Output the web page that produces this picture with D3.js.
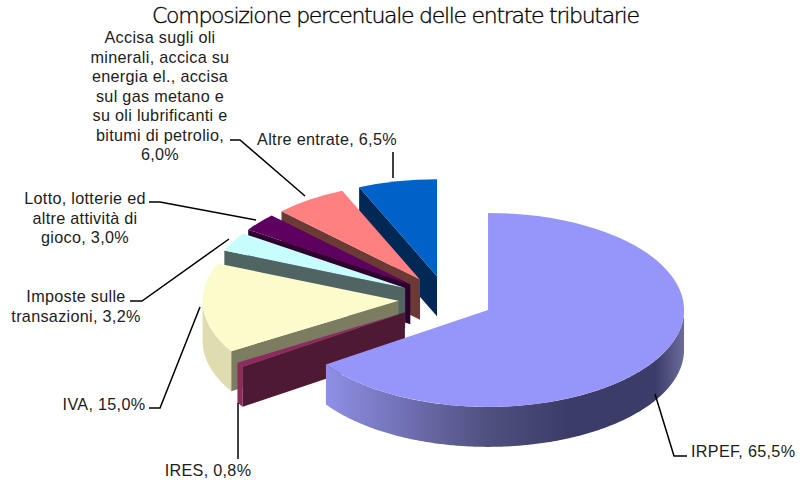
<!DOCTYPE html>
<html>
<head>
<meta charset="utf-8">
<script src="https://cdn.jsdelivr.net/npm/d3@7"></script>
<style>
body { margin: 0; background: #fff; }
text { font-family: "Liberation Sans", Arial, sans-serif; fill: #1c1c1c; }
</style>
</head>
<body>
<div id="chart"></div>
<script>
var categories = ["IRPEF", "IRES", "IVA", "Imposte sulle transazioni", "Lotto, lotterie ed altre attività di gioco", "Accisa sugli oli minerali", "Altre entrate"];
var values = [65.5, 0.8, 15.0, 3.2, 3.0, 6.0, 6.5];
var topColors = ["#9696fa", "#8e2a60", "#fbfbcb", "#c8fdfd", "#5e0060", "#ff8080", "#0062c8"];
var wallColors = ["#3c3c68", "#4d1933", "#7c7c60", "#506464", "#2d002d", "#6b3a35", "#002855"];
var rimLight = ["#8f8fe6", "#8a2d5c", "#dfddb0", "#a3cccc", "#520052", "#cc6666", "#0052a3"];
var explodeBy = [47, 49.5, 48, 47, 47, 47, 47];

var w = 803;
var h = 484;
var rx = 196;
var ry = 97;
var depth = 40;
var cx = 446.5;
var cy = 299;

// label text split the way the original wraps it
var labels = [
    { lines: ["IRPEF, 65,5%"], x: 691, y: 457, anchor: "start", path: [[655, 394], [674, 456], [687, 456]] },
    { lines: ["IRES, 0,8%"], x: 208, y: 476, anchor: "middle", path: [[238, 403], [238, 459]] },
    { lines: ["IVA, 15,0%"], x: 104, y: 410, anchor: "middle", path: [[200, 307], [160, 408], [149, 408]] },
    { lines: ["Imposte sulle", "transazioni, 3,2%"], x: 76, y: 302, anchor: "middle", path: [[229, 239], [142, 301], [130, 301]] },
    { lines: ["Lotto, lotterie ed", "altre attività di", "gioco, 3,0%"], x: 85, y: 204, anchor: "middle", path: [[256, 220], [160, 202], [149, 202]] },
    { lines: ["Accisa sugli oli", "minerali, accica su", "energia el., accisa", "sul gas metano e", "su oli lubrificanti e", "bitumi di petrolio,", "6,0%"], x: 160, y: 43, anchor: "middle", path: [[305, 196], [240, 140], [230, 140]] },
    { lines: ["Altre entrate, 6,5%"], x: 327, y: 145, anchor: "middle", path: [[393, 178], [393, 152]] }
];

var pie = d3.pie().sort(null);
var slices = pie(values);

var arc = d3.arc().innerRadius(0).outerRadius(rx);

var svg = d3.select("#chart")
            .append("svg")
            .attr("width", w)
            .attr("height", h);

var defs = svg.append("defs");

// points on the flattened circle, angle clockwise from north
function px(a) { return rx * Math.sin(a); }
function py(a) { return -ry * Math.cos(a); }

var rimArea = d3.area()
                .x(function(a){ return px(a); })
                .y0(function(a){ return py(a); })
                .y1(function(a){ return py(a) + depth; });

var cutArea = d3.area()
                .x(function(t){ return t.x; })
                .y0(function(t){ return t.y; })
                .y1(function(t){ return t.y + depth; });

// gradient for the big slice's rim
var grad = defs.append("linearGradient")
                .attr("id", "rim0")
                .attr("gradientUnits", "objectBoundingBox")
                .attr("x1", 0).attr("x2", 1).attr("y1", 0).attr("y2", 0);
grad.append("stop").attr("offset", "0").attr("stop-color", "#8f8fe6");
grad.append("stop").attr("offset", "0.45").attr("stop-color", "#50507f");
grad.append("stop").attr("offset", "0.68").attr("stop-color", "#3c3c68");
grad.append("stop").attr("offset", "0.92").attr("stop-color", "#3c3c68");
grad.append("stop").attr("offset", "1").attr("stop-color", "#6c6c9c");

// back slices first, big one on top
var order = [6, 5, 4, 3, 2, 1, 0];

order.forEach(function(i){
    var d = slices[i];
    var mid = (d.startAngle + d.endAngle) / 2;
    var e = explodeBy[i];
    var g = svg.append("g")
                .attr("transform", "translate(" + (cx + e * Math.sin(mid)) + "," + (cy - e * (ry / rx) * Math.cos(mid)) + ")");

    // the radial wall that faces the viewer is the one on the start side
    if (i > 0) {
        g.append("path")
            .attr("fill", wallColors[i])
            .attr("d", cutArea([{ x: 0, y: 0 }, { x: px(d.startAngle), y: py(d.startAngle) }]));
    }

    // rim, only the part on the front half of the ellipse
    var a0 = Math.max(d.startAngle, Math.PI / 2);
    var a1 = Math.min(d.endAngle, Math.PI * 3 / 2);
    if (a1 > a0) {
        g.append("path")
            .attr("fill", i === 0 ? "url(#rim0)" : rimLight[i])
            .attr("d", rimArea(d3.range(a0, a1, 0.01).concat([a1])));
    }

    // top face: the arc generator squashed into an ellipse
    g.append("path")
        .attr("fill", topColors[i])
        .attr("transform", "scale(1," + (ry / rx) + ")")
        .attr("d", arc(d));
});

// leader lines
var line = d3.line();
svg.selectAll("path.leader")
    .data(labels)
    .enter()
    .append("path")
    .attr("class", "leader")
    .attr("fill", "none")
    .attr("stroke", "#000")
    .attr("stroke-width", 1.5)
    .attr("d", function(d){ return line(d.path); });

// labels
var labelText = svg.selectAll("text.label")
                    .data(labels)
                    .enter()
                    .append("text")
                    .attr("class", "label")
                    .attr("text-anchor", function(d){ return d.anchor; })
                    .style("font-size", "16.2px")
                    .style("letter-spacing", "0.3px");

labelText.selectAll("tspan")
    .data(function(d){
        return d.lines.map(function(t, i){ return { t: t, x: d.x, y: d.y + i * 19.5 }; });
    })
    .enter()
    .append("tspan")
    .attr("x", function(d){ return d.x; })
    .attr("y", function(d){ return d.y; })
    .text(function(d){ return d.t; });

svg.append("text")
    .attr("x", 396)
    .attr("y", 23)
    .attr("text-anchor", "middle")
    .style("font-family", "'DejaVu Sans', sans-serif")
    .style("font-weight", "200")
    .style("font-size", "22px")
    .style("fill", "#000")
    .style("stroke", "#000")
    .style("stroke-width", "0.35px")
    .attr("textLength", 488)
    .attr("lengthAdjust", "spacing")
    .text("Composizione percentuale delle entrate tributarie");
</script>
</body>
</html>
